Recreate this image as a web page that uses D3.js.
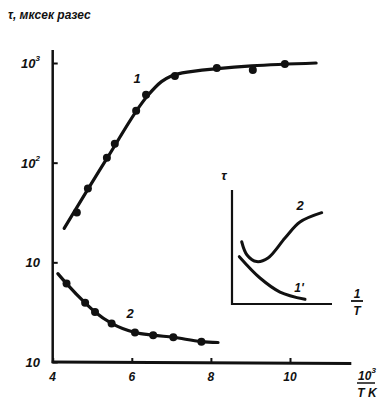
<!DOCTYPE html>
<html>
<head>
<meta charset="utf-8">
<script src="https://cdn.jsdelivr.net/npm/d3@7"></script>
<style>
  body { margin: 0; background: #fff; }
  text { font-family: "Liberation Sans", "DejaVu Sans", sans-serif; font-style: italic; font-weight: bold; fill: #111; }
</style>
</head>
<body>
<div id="chart"></div>
<script>
// main chart: relaxation time vs 10^3/T (log scale)
var xTicks = [4, 6, 8, 10];
var yTicks = [1, 10, 100, 1000];
var yTickLabels = [["10", ""], ["10", ""], ["10", "2"], ["10", "3"]];

// curve 1 measured points
var pts1X = [4.61, 4.89, 5.37, 5.57, 6.11, 6.36, 7.09, 8.15, 9.06, 9.87];
var pts1Y = [31.6, 55, 112, 155, 331, 479, 741, 891, 851, 977];
// curve 1 fitted line
var line1X = [4.29, 5.4, 6.4, 6.75, 7.0, 7.4, 10.66];
var line1Y = [21.9, 115, 470, 650, 740, 810, 1000];

// curve 2 measured points
var pts2X = [4.35, 4.82, 5.07, 5.49, 6.08, 6.54, 7.05, 7.76];
var pts2Y = [6.12, 3.92, 3.18, 2.44, 1.98, 1.86, 1.77, 1.60];
// curve 2 fitted line
var line2X = [4.13, 4.35, 4.82, 5.07, 5.49, 6.08, 6.54, 7.05, 7.76, 8.18];
var line2Y = [7.71, 6.12, 3.92, 3.18, 2.44, 1.98, 1.86, 1.77, 1.60, 1.57];

// inset (schematic tau vs 1/T)
var inset2X = [0.097, 0.15, 0.247, 0.36, 0.53, 0.68, 0.897];
var inset2Y = [0.546, 0.43, 0.372, 0.404, 0.579, 0.719, 0.801];
var inset1X = [0.073, 0.28, 0.48, 0.73];
var inset1Y = [0.415, 0.228, 0.105, 0.041];

var width = 382, height = 404;

var svg = d3.select("#chart").append("svg")
  .attr("width", width)
  .attr("height", height);
svg.append("rect").attr("width", width).attr("height", height).attr("fill", "#fff");

var x = d3.scaleLinear().domain([4, 10]).range([52.7, 290]);
var y = d3.scaleLog().domain([1, 1000]).range([362, 63]);

var ink = "#111";

// axes
var yAxis = svg.append("g")
  .attr("transform", "translate(" + x(4) + ",0)")
  .call(d3.axisRight(y).tickValues(yTicks).tickSize(5).tickFormat(""));
yAxis.select(".domain").remove();
yAxis.selectAll("line").attr("stroke", ink).attr("stroke-width", 2);

var xAxis = svg.append("g")
  .attr("transform", "translate(0," + y(1) + ")")
  .call(d3.axisTop(x).tickValues(xTicks).tickSize(4).tickFormat(""));
xAxis.select(".domain").remove();
xAxis.selectAll("line").attr("stroke", ink).attr("stroke-width", 2);

svg.append("line")
  .attr("x1", x(4)).attr("x2", x(4))
  .attr("y1", 50).attr("y2", y(1) + 1)
  .attr("stroke", ink).attr("stroke-width", 2.5);
svg.append("line")
  .attr("x1", x(4) - 1).attr("x2", x.invert ? x(11.55) : 351)
  .attr("y1", y(1)).attr("y2", y(1) + 1.5)
  .attr("stroke", ink).attr("stroke-width", 3);

// tick labels
yTicks.forEach(function(v, i) {
  var t = svg.append("text")
    .attr("x", 40).attr("y", y(v) + 5)
    .attr("text-anchor", "end")
    .style("font-size", "13px");
  t.append("tspan").text(yTickLabels[i][0]);
  if (yTickLabels[i][1]) {
    t.append("tspan").attr("dy", -7).style("font-size", "8px").text(yTickLabels[i][1]);
  }
});

xTicks.forEach(function(v) {
  svg.append("text")
    .attr("x", x(v)).attr("y", 381)
    .attr("text-anchor", "middle")
    .style("font-size", "12px")
    .text(v);
});

// axis titles
svg.append("text")
  .attr("x", 8).attr("y", 19)
  .style("font-size", "12px")
  .text("τ, мксек  разес");

var fr = svg.append("g").attr("transform", "translate(367,0)");
var num = fr.append("text").attr("x", 0).attr("y", 380)
  .attr("text-anchor", "middle").style("font-size", "12px");
num.append("tspan").text("10");
num.append("tspan").attr("dy", -7).style("font-size", "8px").text("3");
fr.append("line").attr("x1", -10).attr("x2", 8)
  .attr("y1", 383).attr("y2", 383).attr("stroke", ink).attr("stroke-width", 1.5);
fr.append("text").attr("x", 0).attr("y", 397)
  .attr("text-anchor", "middle").style("font-size", "12px").text("T K");

// curves
var line = d3.line().x(function(d) { return x(d[0]); }).y(function(d) { return y(d[1]); })
  .curve(d3.curveMonotoneX);

var curve1 = d3.zip(line1X, line1Y);
var curve2 = d3.zip(line2X, line2Y);

svg.append("path").attr("d", line(curve1))
  .attr("fill", "none").attr("stroke", ink).attr("stroke-width", 3.2)
  .attr("stroke-linecap", "round");
svg.append("path").attr("d", line(curve2))
  .attr("fill", "none").attr("stroke", ink).attr("stroke-width", 3.2)
  .attr("stroke-linecap", "round");

svg.selectAll(".pt1").data(d3.zip(pts1X, pts1Y)).enter()
  .append("circle").attr("class", "pt1")
  .attr("cx", function(d) { return x(d[0]); })
  .attr("cy", function(d) { return y(d[1]); })
  .attr("r", 4).attr("fill", ink);
svg.selectAll(".pt2").data(d3.zip(pts2X, pts2Y)).enter()
  .append("circle").attr("class", "pt2")
  .attr("cx", function(d) { return x(d[0]); })
  .attr("cy", function(d) { return y(d[1]); })
  .attr("r", 4).attr("fill", ink);

// curve labels
svg.append("text").attr("x", 137).attr("y", 83)
  .attr("text-anchor", "middle").style("font-size", "13px").text("1");
svg.append("text").attr("x", 130).attr("y", 318)
  .attr("text-anchor", "middle").style("font-size", "13px").text("2");

// inset
var ix = d3.scaleLinear().domain([0, 1]).range([232, 332]);
var iy = d3.scaleLinear().domain([0, 1]).range([304, 190]);

var inset = svg.append("g");
inset.append("path")
  .attr("d", "M" + ix(0) + "," + iy(1) + "V" + iy(0) + "H" + ix(1))
  .attr("fill", "none").attr("stroke", ink).attr("stroke-width", 2.2);

var iline = d3.line().x(function(d) { return ix(d[0]); }).y(function(d) { return iy(d[1]); })
  .curve(d3.curveCatmullRom);
inset.append("path").attr("d", iline(d3.zip(inset2X, inset2Y)))
  .attr("fill", "none").attr("stroke", ink).attr("stroke-width", 3)
  .attr("stroke-linecap", "round");
inset.append("path").attr("d", iline(d3.zip(inset1X, inset1Y)))
  .attr("fill", "none").attr("stroke", ink).attr("stroke-width", 3)
  .attr("stroke-linecap", "round");

inset.append("text").attr("x", 224).attr("y", 180)
  .attr("text-anchor", "middle").style("font-size", "13px").text("τ");
inset.append("text").attr("x", 300).attr("y", 210)
  .attr("text-anchor", "middle").style("font-size", "13px").text("2");
inset.append("text").attr("x", 299).attr("y", 292)
  .attr("text-anchor", "middle").style("font-size", "12px").text("1'");
inset.append("text").attr("x", 357).attr("y", 298)
  .attr("text-anchor", "middle").style("font-size", "12px").text("1");
inset.append("line").attr("x1", 351).attr("x2", 363)
  .attr("y1", 301).attr("y2", 301).attr("stroke", ink).attr("stroke-width", 1.8);
inset.append("text").attr("x", 357).attr("y", 315)
  .attr("text-anchor", "middle").style("font-size", "12px").text("T");
</script>
</body>
</html>
